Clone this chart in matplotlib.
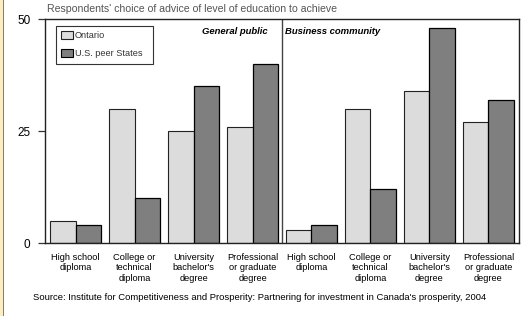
import matplotlib
matplotlib.use("Agg")
import matplotlib.pyplot as plt
from matplotlib.patches import Patch, Rectangle
import numpy as np

plt.rcParams["font.family"] = ["Liberation Sans", "DejaVu Sans"]

levels = ["High school\ndiploma", "College or\ntechnical\ndiploma",
          "University\nbachelor's\ndegree", "Professional\nor graduate\ndegree"]
panels = ["General public", "Business community"]
general_ontario = [5, 30, 25, 26]
general_us = [4, 10, 35, 40]
business_ontario = [3, 30, 34, 27]
business_us = [4, 12, 48, 32]
series = ["Ontario", "U.S. peer States"]
subtitle = "Respondents' choice of advice of level of education to achieve"
source = ("Source: Institute for Competitiveness and Prosperity: Partnering for "
          "investment in Canada's prosperity, 2004")

c_ont, c_us = "#dcdcdc", "#7f7f7f"

fig = plt.figure(figsize=(5.31, 3.16), dpi=100)
ax = fig.add_axes([45/531, 1-243/316, 474/531, 224/316])

ont = general_ontario + business_ontario
us = general_us + business_us
x = np.arange(len(ont))
w = 0.432
ax.bar(x - w/2, ont, w, color=c_ont, edgecolor="#222222", linewidth=0.8)
ax.bar(x + w/2, us, w, color=c_us, edgecolor="black", linewidth=0.9)

ax.set_xlim(-0.517, 7.517)
ax.set_ylim(0, 50)
ax.axvline(3.5, color="#444444", lw=1.0)

ax.set_yticks([0, 25, 50])
ax.tick_params(axis="y", length=5, width=0.9, pad=5.5, labelsize=8.5, color="#333333")
ax.set_xticks(x)
ax.set_xticklabels(levels * 2, fontsize=6.7, linespacing=1.15)
ax.tick_params(axis="x", length=0, pad=7.5)
for s in ax.spines.values():
    s.set_linewidth(1.0)
    s.set_color("#222222")

ax.text(0.470, 0.946, panels[0], transform=ax.transAxes, ha="right", va="center",
        fontsize=6.8, fontweight="bold", style="italic")
ax.text(0.506, 0.946, panels[1], transform=ax.transAxes, ha="left", va="center",
        fontsize=6.8, fontweight="bold", style="italic")

handles = [Patch(facecolor=c_ont, edgecolor="#222222", lw=0.8),
           Patch(facecolor=c_us, edgecolor="black", lw=0.8)]
leg = ax.legend(handles, series, loc="upper left", bbox_to_anchor=(0.023, 0.969, 0.205, 0.0),
                mode="expand", fontsize=6.6, frameon=True, fancybox=False,
                edgecolor="#333333", framealpha=1, borderaxespad=0, borderpad=0.6,
                labelspacing=0.95, handlelength=1.3, handleheight=0.9, handletextpad=0.15)
leg.get_frame().set_linewidth(0.8)
for t in leg.get_texts():
    t.set_color("#333333")

fig.text(47/531, 1-9/316, subtitle, ha="left", va="center", fontsize=7.6, color="#555555")
fig.text(33/531, 1-297/316, source, ha="left", va="center", fontsize=6.8, color="black")

# pale left border strip
fig.patches.append(Rectangle((0, 0), 3/531, 1, transform=fig.transFigure,
                             facecolor="#fbeec4", edgecolor="none"))
fig.patches.append(Rectangle((3/531, 0), 1/531, 1, transform=fig.transFigure,
                             facecolor="#8a8060", edgecolor="none"))

fig.savefig("out.png", dpi=100)
